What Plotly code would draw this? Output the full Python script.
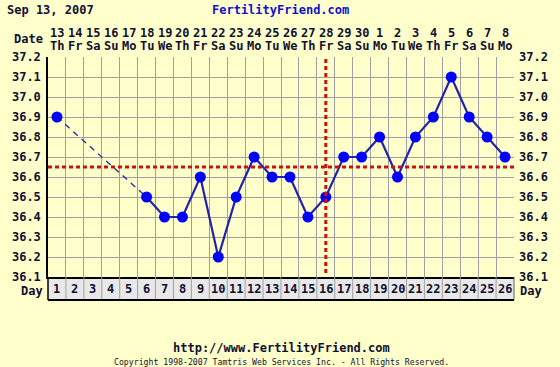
import plotly.graph_objects as go

# ---- data ----
cycle_days = list(range(1, 27))
temps = [36.9, None, None, None, None, 36.5, 36.4, 36.4, 36.6, 36.2, 36.5, 36.7, 36.6,
         36.6, 36.4, 36.5, 36.7, 36.7, 36.8, 36.6, 36.8, 36.9, 37.1, 36.9, 36.8, 36.7]
date_labels = ["13", "14", "15", "16", "17", "18", "19", "20", "21", "22", "23", "24", "25",
               "26", "27", "28", "29", "30", "1", "2", "3", "4", "5", "6", "7", "8"]
weekday_labels = ["Th", "Fr", "Sa", "Su", "Mo", "Tu", "We", "Th", "Fr", "Sa", "Su", "Mo", "Tu",
                  "We", "Th", "Fr", "Sa", "Su", "Mo", "Tu", "We", "Th", "Fr", "Sa", "Su", "Mo"]
coverline = 36.65
ovulation_day = 16
y_min, y_max = 36.1, 37.2
title_date = "Sep 13, 2007"
site = "FertilityFriend.com"
url = "http://www.FertilityFriend.com"
copyright_text = "Copyright 1998-2007 Tamtris Web Services Inc. - All Rights Reserved."

# ---- style ----
BG = "#FFFFCC"
TXT = "#101030"
GRID = "#a0a0a0"
LINE = "#2222aa"
MARK = "#0000ff"
RED = "#cc1111"
FONT = "DejaVu Sans Mono"

W, H = 560, 367
L, R, T, B = 46, 46, 57, 90
plot_h = H - T - B
n = len(cycle_days)

def py(px):
    # pixel y -> paper y
    return (H - B - px) / plot_h

def pxx(px):
    return (px - L) / (W - L - R)

fig = go.Figure()

known = [(d, t) for d, t in zip(cycle_days, temps) if t is not None]
solid_x, solid_y = [], []
for i, (d, t) in enumerate(known):
    if i > 0:
        pd_, pt = known[i - 1]
        if d - pd_ > 1:
            fig.add_trace(go.Scatter(x=[pd_, d], y=[pt, t], mode="lines",
                                     line=dict(color=LINE, width=1.3, dash="6px,5px"),
                                     hoverinfo="skip", showlegend=False))
            solid_x.append(None); solid_y.append(None)
    solid_x.append(d); solid_y.append(t)
fig.add_trace(go.Scatter(x=solid_x, y=solid_y, mode="lines",
                         line=dict(color=LINE, width=2.2), connectgaps=False,
                         showlegend=False, hoverinfo="skip"))
fig.add_trace(go.Scatter(x=[d for d, t in known], y=[t for d, t in known], mode="markers",
                         marker=dict(color=MARK, size=11), showlegend=False))
fig.add_trace(go.Scatter(x=[1], y=[y_min], yaxis="y2", mode="markers",
                         marker=dict(opacity=0), showlegend=False, hoverinfo="skip"))

tickvals = [round(y_min + 0.1 * i, 1) for i in range(12)]
ticktext = [f"{v:.1f}" for v in tickvals]
axfont = dict(family=FONT, size=12, color=TXT, weight="bold")

fig.update_layout(
    width=W, height=H,
    margin=dict(l=L, r=R, t=T, b=B),
    paper_bgcolor=BG, plot_bgcolor=BG,
    showlegend=False,
    xaxis=dict(range=[0.5, n + 0.5], tickvals=[i + 0.5 for i in range(n + 1)],
               showticklabels=False, showgrid=True, gridcolor=GRID, gridwidth=1,
               zeroline=False, ticks="", showline=True, linecolor="black", linewidth=1.5),
    yaxis=dict(range=[y_min, y_max], tickvals=tickvals, ticktext=ticktext,
               showgrid=True, gridcolor=GRID, gridwidth=1, zeroline=False,
               showline=True, linecolor="black", linewidth=1.5, ticks="",
               tickfont=axfont, ticklabelstandoff=3),
    yaxis2=dict(range=[y_min, y_max], tickvals=tickvals, ticktext=ticktext,
                overlaying="y", side="right", showgrid=False, zeroline=False,
                showline=False, ticks="", tickfont=axfont, ticklabelstandoff=4),
)

shapes = []
shapes.append(dict(type="line", xref="paper", yref="y", x0=0, x1=1, y0=coverline, y1=coverline,
                   line=dict(color=RED, width=3, dash="4px,3px"), layer="above"))
shapes.append(dict(type="line", xref="x", yref="paper", x0=ovulation_day, x1=ovulation_day,
                   y0=py(273), y1=1, line=dict(color=RED, width=3, dash="4px,3px"), layer="above"))
row_bot = py(300)
shapes.append(dict(type="rect", xref="paper", yref="paper", x0=0, x1=1, y0=row_bot, y1=0,
                   fillcolor="#e8e8e8", line=dict(width=0), layer="below"))
for i in range(1, n):
    shapes.append(dict(type="line", xref="paper", yref="paper", x0=i / n, x1=i / n,
                       y0=row_bot, y1=0, line=dict(color=GRID, width=1)))
shapes.append(dict(type="line", xref="paper", yref="paper", x0=1, x1=1,
                   y0=row_bot, y1=0, line=dict(color="#606060", width=1)))
shapes.append(dict(type="line", xref="paper", yref="paper", x0=0, x1=1,
                   y0=row_bot, y1=row_bot, line=dict(color="black", width=2)))
shapes.append(dict(type="line", xref="paper", yref="paper", x0=0, x1=0,
                   y0=row_bot, y1=0, line=dict(color="black", width=1.5)))
fig.update_layout(shapes=shapes)

ann = []
for d, dl, wl in zip(cycle_days, date_labels, weekday_labels):
    ann.append(dict(x=d, y=py(33), xref="x", yref="paper", text=dl, showarrow=False,
                    font=axfont, xanchor="center", yanchor="middle"))
    ann.append(dict(x=d, y=py(46), xref="x", yref="paper", text=wl, showarrow=False,
                    font=axfont, xanchor="center", yanchor="middle"))
    ann.append(dict(x=d, y=py(289), xref="x", yref="paper", text=str(d), showarrow=False,
                    font=axfont, xanchor="center", yanchor="middle"))

def pann(x, y, text, font, xanchor):
    return dict(x=pxx(x), y=py(y), xref="paper", yref="paper", text=text, showarrow=False,
                font=font, xanchor=xanchor, yanchor="middle")

ann.append(pann(43, 39, "Date", axfont, "right"))
ann.append(pann(43, 291, "Day", axfont, "right"))
ann.append(pann(518, 291, "Day", axfont, "left"))
ann.append(pann(3, 10, title_date, axfont, "left"))
ann.append(pann(279, 10, site, dict(family=FONT, size=12, color="#1010cc", weight="bold"), "center"))
ann.append(pann(280, 348, url, axfont, "center"))
ann.append(pann(280, 362, copyright_text, dict(family=FONT, size=8.2, color=TXT), "center"))
fig.update_layout(annotations=ann)

fig.write_html("out.html", config={"displayModeBar": False},
               post_script="document.body.style.margin='0';document.body.style.padding='0';")
